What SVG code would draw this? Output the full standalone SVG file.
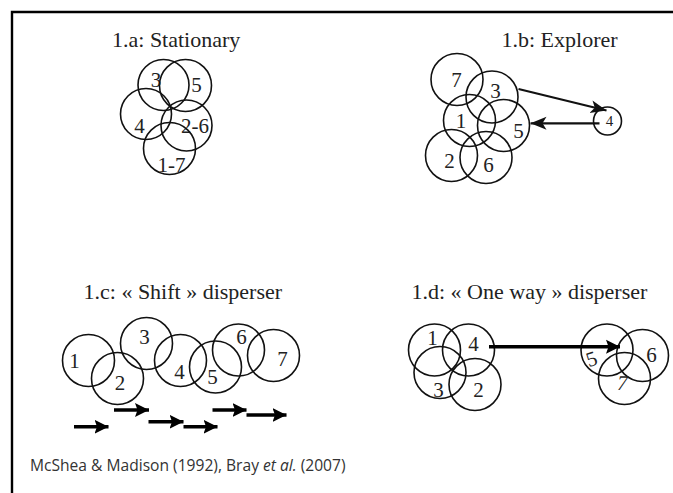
<svg xmlns="http://www.w3.org/2000/svg" width="673" height="493" viewBox="0 0 673 493">
<style>
.t{font-family:"Liberation Serif","Times New Roman",serif;font-size:22px;fill:#222}
.n{font-family:"Liberation Serif","Times New Roman",serif;font-size:21px;fill:#222;text-anchor:middle}
.c{fill:none;stroke:#111;stroke-width:1.6}
.thin{stroke:#111;stroke-width:2.2;fill:none}
.thick{stroke:#000;stroke-width:3.6;fill:none}
.cap{font-family:"Open Sans","Liberation Sans",sans-serif;font-size:15.6px;fill:#333}
</style>
<defs>
<marker id="ah" markerUnits="userSpaceOnUse" markerWidth="18" markerHeight="14" refX="16" refY="7" orient="auto">
<path d="M0,0.5 L16,7 L0,13.5 L4,7 Z" fill="#111"/>
</marker>
<marker id="ahb" markerUnits="userSpaceOnUse" markerWidth="16" markerHeight="16" refX="14" refY="8" orient="auto">
<path d="M0,1 L14,8 L0,15 L2.5,8 Z" fill="#000"/>
</marker>
</defs>
<rect width="673" height="493" fill="#fff"/>
<path d="M12,493 V12 H673" fill="none" stroke="#000" stroke-width="2.4"/>

<g id="panel-a">
<text class="t" x="112" y="47">1.a: Stationary</text>
<g id="a3"><circle class="c" cx="163.5" cy="85" r="25.5"/><text class="n" x="156" y="86.5">3</text></g>
<g id="a5"><circle class="c" cx="185.5" cy="85.5" r="26"/><text class="n" x="196.5" y="91.5">5</text></g>
<g id="a4"><circle class="c" cx="146" cy="114" r="25.5"/><text class="n" x="139.5" y="132.5">4</text></g>
<g id="a26"><circle class="c" cx="186.5" cy="125.5" r="25.5"/><text class="n" x="195" y="132.5">2-6</text></g>
<g id="a17"><circle class="c" cx="169.5" cy="148.5" r="26"/><text class="n" x="171.5" y="171.5">1-7</text></g>
</g>

<g id="panel-b">
<text class="t" x="501.5" y="46.5">1.b: Explorer</text>
<g id="b7"><circle class="c" cx="457" cy="79.5" r="26"/><text class="n" x="456.5" y="86.5">7</text></g>
<g id="b3"><circle class="c" cx="492" cy="97" r="26"/><text class="n" x="495.5" y="97.5">3</text></g>
<g id="b1"><circle class="c" cx="469.5" cy="120.5" r="26"/><text class="n" x="461" y="127.5">1</text></g>
<g id="b5"><circle class="c" cx="503.5" cy="125.5" r="26"/><text class="n" x="518.5" y="137.5">5</text></g>
<g id="b2"><circle class="c" cx="451.5" cy="155.5" r="26"/><text class="n" x="449.5" y="167.5">2</text></g>
<g id="b6"><circle class="c" cx="486" cy="157.5" r="26"/><text class="n" x="488.5" y="171.5">6</text></g>
<g id="b4"><circle class="c" cx="607.5" cy="121" r="14"/><text class="n" x="609.5" y="126" style="font-size:15px">4</text></g>
</g>

<g id="panel-c">
<text class="t" x="83.5" y="298.5">1.c: « Shift » disperser</text>
<g id="c1"><circle class="c" cx="88.5" cy="360.5" r="26"/><text class="n" x="74.5" y="367.5">1</text></g>
<g id="c2"><circle class="c" cx="117.5" cy="378.5" r="26"/><text class="n" x="120" y="390">2</text></g>
<g id="c3"><circle class="c" cx="146.5" cy="343.5" r="26"/><text class="n" x="144.5" y="344">3</text></g>
<g id="c4"><circle class="c" cx="180.5" cy="360.5" r="26"/><text class="n" x="179.5" y="378.5">4</text></g>
<g id="c5"><circle class="c" cx="215.5" cy="367" r="26"/><text class="n" x="212.5" y="383.5">5</text></g>
<g id="c6"><circle class="c" cx="238.5" cy="350" r="26"/><text class="n" x="241.5" y="344">6</text></g>
<g id="c7"><circle class="c" cx="273.5" cy="355.5" r="26"/><text class="n" x="282.5" y="366">7</text></g>
</g>

<g id="panel-d">
<text class="t" x="411.5" y="298.5">1.d: « One way » disperser</text>
<g id="d1"><circle class="c" cx="434.5" cy="350" r="26"/><text class="n" x="432.5" y="345">1</text></g>
<g id="d4"><circle class="c" cx="468.5" cy="350" r="26"/><text class="n" x="473.5" y="351">4</text></g>
<g id="d3"><circle class="c" cx="440" cy="372.5" r="26"/><text class="n" x="438.5" y="396.5">3</text></g>
<g id="d2"><circle class="c" cx="475" cy="384.5" r="26"/><text class="n" x="478.5" y="396.5">2</text></g>
<g id="d5"><circle class="c" cx="607" cy="350" r="26"/><text class="n" x="591.5" y="366" transform="rotate(-18 591.5 359)">5</text></g>
<g id="d6"><circle class="c" cx="642.5" cy="355.5" r="26"/><text class="n" x="651.5" y="361.5">6</text></g>
<g id="d7"><circle class="c" cx="624.5" cy="378.5" r="26"/><text class="n" x="622.5" y="390" transform="skewX(-12)" style="transform-box:fill-box;transform-origin:center">7</text></g>
</g>

<g id="connectors">
<line class="thin" x1="518.5" y1="89" x2="606.5" y2="110.5" marker-end="url(#ah)"/>
<line class="thin" x1="599.5" y1="123.3" x2="530.5" y2="123.3" marker-end="url(#ah)"/>
<line class="thick" x1="74" y1="426.7" x2="108.5" y2="426.7" marker-end="url(#ahb)"/>
<line class="thick" x1="114" y1="410" x2="149" y2="410" marker-end="url(#ahb)"/>
<line class="thick" x1="148.5" y1="421.7" x2="183.5" y2="421.7" marker-end="url(#ahb)"/>
<line class="thick" x1="183.5" y1="426.7" x2="217.5" y2="426.7" marker-end="url(#ahb)"/>
<line class="thick" x1="212.5" y1="410" x2="246.5" y2="410" marker-end="url(#ahb)"/>
<line class="thick" x1="246.5" y1="415" x2="286.5" y2="415" marker-end="url(#ahb)"/>
<line class="thick" x1="489" y1="346.7" x2="620" y2="346.7" marker-end="url(#ahb)"/>
</g>

<text class="cap" x="30" y="470.5">McShea &amp; Madison (1992), Bray <tspan font-style="italic">et al.</tspan> (2007)</text>
</svg>
